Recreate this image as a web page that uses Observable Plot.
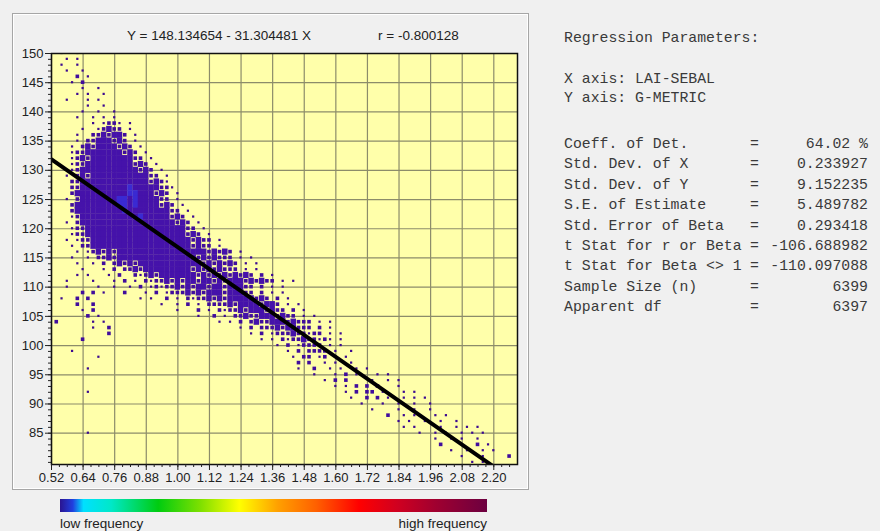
<!DOCTYPE html>
<html>
<head>
<meta charset="utf-8">
<script src="https://cdn.jsdelivr.net/npm/d3@7"></script>
<script src="https://cdn.jsdelivr.net/npm/@observablehq/plot@0.6"></script>
<style>
  html, body { margin: 0; padding: 0; background: #f0f0f0; }
  #wrap { position: relative; width: 880px; height: 531px; background: #f0f0f0; overflow: hidden; }
  #chart { position: absolute; left: 0; top: 0; }
  #overlay { position: absolute; left: 0; top: 0; pointer-events: none; }
</style>
</head>
<body>
<div id="wrap">
  <div id="chart"></div>
  <svg id="overlay" width="880" height="531"></svg>
</div>
<script>
// ---------- data ----------
const titleEquation = "Y = 148.134654 - 31.304481 X";
const titleR = "r = -0.800128";
const intercept = 148.134654;
const slope = -31.304481;

const xTicks = [0.52, 0.64, 0.76, 0.88, 1.00, 1.12, 1.24, 1.36, 1.48, 1.60, 1.72, 1.84, 1.96, 2.08, 2.20];
const yTicks = [85, 90, 95, 100, 105, 110, 115, 120, 125, 130, 135, 140, 145, 150];
const xDomain = [0.52, 2.29];
const yDomain = [79.64, 150];

// density map: [y value, first column (x = 0.52 + 0.02*col), levels per column]
// '.' empty, 1 single speck, 2 small cluster, 3 dense, 4 densest
const densityRows = [
  [150, 2, "1..1"],
  [149, 3, "1.1"],
  [148, 2, "1..1"],
  [147, 3, "1..1"],
  [146, 5, "2.1"],
  [145, 4, "1.2"],
  [144, 6, "1..1"],
  [143, 5, "1.1..1"],
  [142, 3, "1...1.1"],
  [141, 7, "1..1"],
  [140, 6, "1..1..1"],
  [139, 5, "1..1.1.1"],
  [138, 8, "1.1221.1"],
  [137, 6, "1..12322.1"],
  [136, 5, "1..2232332.1"],
  [135, 5, "1.22333232.1"],
  [134, 4, "1.2323333232.1"],
  [133, 4, "1223333333232.1"],
  [132, 4, "12323333333322.1"],
  [131, 4, "122333333333232.1"],
  [130, 4, "1233333333333232.1"],
  [129, 3, "1.2323333333333322.1"],
  [128, 4, "2233333333333332321"],
  [127, 4, "22333333333433333221"],
  [126, 4, "2333333333344333232.1"],
  [125, 3, "1.233333334434333322.1"],
  [124, 4, "23333333344343333232.1"],
  [123, 4, "233333333343333333322.1"],
  [122, 4, "1233333333333433333232.1"],
  [121, 3, "1.2333333333333333333232.1"],
  [120, 4, "122333333333333333333322.1"],
  [119, 4, "1223333333333333333333232.1"],
  [118, 3, "1.12233333333333333333332322.1"],
  [117, 4, "1.2233333333333333333332322.1"],
  [116, 5, "1.1232323333333333333333323232.1"],
  [115, 4, "1..1.22323333333333333332323222.1.1"],
  [114, 5, "1..1.2.232323333333333332323232.1.1"],
  [113, 6, "1...1.2.2232333333333232323222.1.1"],
  [112, 5, "1"],
  [112, 7, "1...1.2..21232333333323232323232.2.1"],
  [111, 3, "1"],
  [111, 8, "1...1.2.1.2122323233233232333232322.1.1"],
  [110, 3, "1"],
  [110, 9, "1..1..1.2.12122323233233233322.2.1.1"],
  [109, 6, "2.2"],
  [109, 10, "1...2...1.2.12223232333233322.2.1.1"],
  [108, 2, "1..2.2"],
  [108, 17, "1.1..2.1.2122323233333232.2.1"],
  [107, 5, "2..2"],
  [107, 21, "1..1.2.1.22223233332332.1.1"],
  [106, 6, "1.2"],
  [106, 24, "1...2.1.2122323332322.2.1"],
  [105, 7, "2.1"],
  [105, 28, "1..2.1.223223332322.1.1"],
  [104, 1, "2......1.1"],
  [104, 32, "1.1.2.232233323222.1.1"],
  [103, 8, "1..2"],
  [103, 36, "1.2.2223233222.2.1"],
  [102, 11, "2"],
  [102, 38, "1.2.1222322122.1.1"],
  [101, 6, "2"],
  [101, 40, "1.1.2122322121.1"],
  [100, 43, "1.2.12222.1.1"],
  [99, 4, "1"],
  [99, 45, "1.2.2222.1..1"],
  [98, 9, "1"],
  [98, 46, "1.22.12.1.1"],
  [97, 47, "2.2..1.1..1"],
  [96, 7, "1"],
  [96, 47, "1..2..1.1..1.1"],
  [95, 50, "1...1.2.1...1.1"],
  [94, 52, "1.2.2....1..1.1"],
  [93, 54, "1.1.2.2.2...1"],
  [92, 7, "1"],
  [92, 56, "1.2.22.1...1.1"],
  [91, 57, "1..2.2.1..1.1.1"],
  [90, 59, "1...1..1..1..1"],
  [89, 61, "1....1..1..1"],
  [88, 64, "2..1.1...1.1"],
  [87, 66, "1.1..1..1..1"],
  [86, 67, "1.1....1..1.1.1"],
  [85, 7, "1"],
  [85, 70, "1..1.1..1.1.1"],
  [84, 73, "1..1.1..1"],
  [83, 74, "2...1..2.1"],
  [82, 76, "1..1..1.1"],
  [81, 78, "1...1....2"],
  [80, 80, "1.1"]
];

const statLabels = ["Coeff. of Det.", "Std. Dev. of X", "Std. Dev. of Y", "S.E. of Estimate",
  "Std. Error of Beta", "t Stat for r or Beta", "t Stat for Beta <> 1", "Sample Size (n)", "Apparent df"];
const statValues = ["64.02 %", "0.233927", "9.152235", "5.489782", "0.293418",
  "-106.688982", "-110.097088", "6399", "6397"];
const headerLines = ["Regression Parameters:", "X axis: LAI-SEBAL", "Y axis: G-METRIC"];
const legendLabels = ["low frequency", "high frequency"];

// ---------- styles ----------
const cellHalf = {1: [0.0042, 0.19], 2: [0.0068, 0.31], 3: [0.0105, 0.53], 4: [0.0105, 0.53]};
const cellColor = {1: "#3c0a90", 2: "#400d9c", 3: "#4512aa", 4: "#3a2ad2"};

const cells = [];
for (const [y, c0, s] of densityRows) {
  for (let i = 0; i < s.length; i++) {
    const ch = s[i];
    if (!"1234".includes(ch)) continue;
    cells.push({x: 0.52 + 0.02 * (c0 + i), y, level: +ch});
  }
}

const regLine = [0.52, 2.2].map(x => ({x, y: intercept + slope * x}));
const xMinor = d3.range(0.52, 2.29, 0.03);
const yMinor = d3.range(80, 151, 1);

const plot = Plot.plot({
  width: 540,
  height: 495,
  marginLeft: 51,
  marginRight: 23,
  marginTop: 53,
  marginBottom: 31,
  x: {domain: xDomain},
  y: {domain: yDomain},
  color: {type: "identity"},
  style: {background: "transparent", fontFamily: "'Liberation Sans', Arial, sans-serif", fontSize: "13px", color: "#222"},
  marks: [
    Plot.frame({fill: "#ffffaa", stroke: null}),
    Plot.gridX(xTicks, {stroke: "#8c8c6a", strokeOpacity: 1, strokeWidth: 1.2}),
    Plot.gridY(yTicks, {stroke: "#8c8c6a", strokeOpacity: 1, strokeWidth: 1.2}),
    Plot.rect(cells, {
      x1: d => d.x - cellHalf[d.level][0],
      x2: d => d.x + cellHalf[d.level][0],
      y1: d => d.y - cellHalf[d.level][1],
      y2: d => d.y + cellHalf[d.level][1],
      fill: d => cellColor[d.level],
      clip: true
    }),
    Plot.line(regLine, {x: "x", y: "y", stroke: "#000", strokeWidth: 4, clip: true}),
    Plot.frame({stroke: "#111", strokeWidth: 1.5}),
    Plot.axisX(xMinor, {tickSize: 3, tickFormat: () => "", label: null}),
    Plot.axisX(xTicks, {tickSize: 6, tickPadding: 2, tickFormat: d3.format(".2f"), label: null}),
    Plot.axisY(yMinor, {tickSize: 3, tickFormat: () => "", label: null}),
    Plot.axisY(yTicks, {tickSize: 6, tickPadding: 2, label: null})
  ]
});
document.getElementById("chart").appendChild(plot);

// ---------- overlay: panel frame, title, legend, parameters ----------
const svg = d3.select("#overlay");
svg.append("rect").attr("x", 12.5).attr("y", 13.5).attr("width", 516).attr("height", 476)
  .attr("fill", "none").attr("stroke", "#a6a6a6");
svg.append("rect").attr("x", 13.5).attr("y", 14.5).attr("width", 514).attr("height", 474)
  .attr("fill", "none").attr("stroke", "#ffffff");

const sans = "'Liberation Sans', Arial, sans-serif";
svg.append("text").attr("x", 127).attr("y", 40).attr("font-family", sans).attr("font-size", 13.5)
  .attr("fill", "#222").text(titleEquation);
svg.append("text").attr("x", 378).attr("y", 40).attr("font-family", sans).attr("font-size", 13.5)
  .attr("fill", "#222").text(titleR);

const grad = svg.append("defs").append("linearGradient").attr("id", "freq").attr("x1", "0%").attr("x2", "100%");
const stops = [[0, "#2a1490"], [0.03, "#2040e0"], [0.055, "#00e0ff"], [0.12, "#00e8c8"], [0.23, "#00cc10"],
  [0.33, "#80e000"], [0.42, "#ffff00"], [0.51, "#ffa000"], [0.6, "#ff6000"], [0.7, "#ff0000"],
  [0.79, "#d00020"], [0.88, "#a00030"], [1, "#6c0040"]];
stops.forEach(([o, c]) => grad.append("stop").attr("offset", o).attr("stop-color", c));
svg.append("rect").attr("x", 60).attr("y", 499).attr("width", 427).attr("height", 13).attr("fill", "url(#freq)");
svg.append("text").attr("x", 60).attr("y", 528).attr("font-family", sans).attr("font-size", 13.5)
  .attr("fill", "#222").text(legendLabels[0]);
svg.append("text").attr("x", 487).attr("y", 528).attr("text-anchor", "end").attr("font-family", sans)
  .attr("font-size", 13.5).attr("fill", "#222").text(legendLabels[1]);

const mono = "'Liberation Mono', 'Courier New', monospace";
const headerY = [41.5, 83, 102];
headerLines.forEach((t, i) => {
  svg.append("text").attr("x", 564).attr("y", headerY[i]).attr("font-family", mono).attr("font-size", 14.8)
    .attr("fill", "#3a3a3a").attr("xml:space", "preserve").text(t);
});
statLabels.forEach((t, i) => {
  const y = 148 + i * 20.4;
  svg.append("text").attr("x", 564).attr("y", y).attr("font-family", mono).attr("font-size", 14.8)
    .attr("fill", "#3a3a3a").attr("xml:space", "preserve").text(t);
  svg.append("text").attr("x", 750).attr("y", y).attr("font-family", mono).attr("font-size", 14.8)
    .attr("fill", "#3a3a3a").text("=");
  svg.append("text").attr("x", 868).attr("y", y).attr("text-anchor", "end").attr("font-family", mono)
    .attr("font-size", 14.8).attr("fill", "#3a3a3a").text(statValues[i]);
});
</script>
</body>
</html>
